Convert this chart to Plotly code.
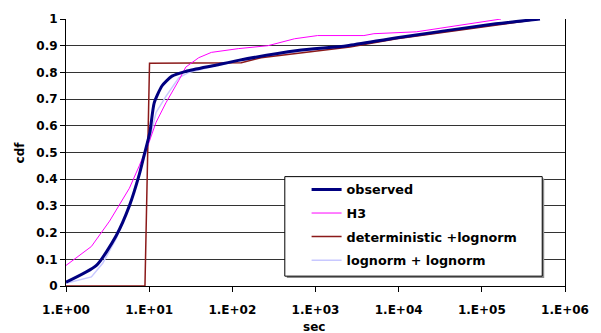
import plotly.graph_objects as go

# Empirical and fitted CDFs of durations (seconds)
obs_x = [1.0, 2.32, 4.01, 5.78, 7.6, 8.7, 10.2, 11.5, 14.3, 18.8, 27.6, 63, 118, 610, 2400, 9500, 147000, 500000]
obs_y = [0.014, 0.077, 0.188, 0.30, 0.417, 0.49, 0.576, 0.686, 0.75, 0.786, 0.804, 0.827, 0.845, 0.882, 0.90, 0.93, 0.982, 1.0]

h3_x = [1.0, 2.02, 3.34, 5.78, 7.6, 10.0, 12.1, 15.9, 22.7, 27.6, 39.4, 56, 118, 268, 560, 1060, 3820, 5040, 16300, 170000]
h3_y = [0.077, 0.148, 0.243, 0.366, 0.45, 0.54, 0.613, 0.686, 0.77, 0.82, 0.855, 0.875, 0.889, 0.90, 0.926, 0.938, 0.938, 0.945, 0.952, 1.0]

det_x = [1.0, 8.9, 10.1, 128, 221, 1060, 2600, 9500, 147000, 500000]
det_y = [0.0, 0.0, 0.834, 0.836, 0.855, 0.882, 0.895, 0.926, 0.978, 1.0]

ln_x = [1.0, 2.02, 2.76, 4.05, 5.78, 8.03, 9.46, 12.1, 15.9, 22.7, 29.9, 63, 118, 610, 2400, 9500, 147000, 500000]
ln_y = [0.01, 0.034, 0.085, 0.18, 0.30, 0.45, 0.51, 0.65, 0.71, 0.78, 0.80, 0.825, 0.843, 0.878, 0.897, 0.926, 0.978, 1.0]

x_tickvals = [1, 10, 100, 1000, 10000, 100000, 1000000]
x_ticktext = ["1.E+00", "1.E+01", "1.E+02", "1.E+03", "1.E+04", "1.E+05", "1.E+06"]
y_tickvals = [0, 0.1, 0.2, 0.3, 0.4, 0.5, 0.6, 0.7, 0.8, 0.9, 1]
y_ticktext = ["0", "0.1", "0.2", "0.3", "0.4", "0.5", "0.6", "0.7", "0.8", "0.9", "1"]

FONT = "DejaVu Sans, Arial, sans-serif"

# plot area in pixels: x 66..570, y 15..286
L, R, T, B = 66, 570, 15, 286


def px(x):
    return (x - L) / (R - L)


def py(y):
    return (B - y) / (B - T)


fig = go.Figure()
# drawn back-to-front so that the observed curve sits on top
fig.add_trace(go.Scatter(x=ln_x, y=ln_y, mode="lines", name="lognorm + lognorm",
                         line=dict(color="#c8c8ff", width=1.5), legendrank=4, legendgroup="d"))
fig.add_trace(go.Scatter(x=det_x, y=det_y, mode="lines", name="deterministic +lognorm",
                         line=dict(color="#8b1a1a", width=1.5), legendrank=3, legendgroup="c"))
fig.add_trace(go.Scatter(x=h3_x, y=h3_y, mode="lines", name="H3",
                         line=dict(color="#ff00ff", width=1), legendrank=2, legendgroup="b"))
fig.add_trace(go.Scatter(x=obs_x, y=obs_y, mode="lines", name="observed",
                         line=dict(color="#000080", width=3, shape="spline", smoothing=0.6),
                         legendrank=1, legendgroup="a"))

fig.update_layout(
    width=601, height=333,
    margin=dict(l=L, r=601 - R, t=T, b=333 - B),
    paper_bgcolor="white", plot_bgcolor="white",
    font=dict(family=FONT, size=12, color="black"),
    showlegend=True,
    legend=dict(
        x=px(309), y=py(173), xanchor="left", yanchor="top",
        bgcolor="rgba(0,0,0,0)", borderwidth=0,
        font=dict(family=FONT, size=12.75, color="black", weight="bold"),
        tracegroupgap=4, itemwidth=30,
    ),
    xaxis=dict(
        type="log", range=[0, 6],
        tickvals=x_tickvals, ticktext=x_ticktext,
        tickfont=dict(family=FONT, size=12, weight="bold"),
        ticks="outside", ticklen=5, tickcolor="black",
        ticklabelstandoff=8,
        showline=True, linecolor="black", linewidth=1,
        showgrid=False, zeroline=False,
    ),
    yaxis=dict(
        range=[0, 1],
        tickvals=y_tickvals, ticktext=y_ticktext,
        tickfont=dict(family=FONT, size=12, weight="bold"),
        ticks="outside", ticklen=5, tickcolor="black",
        showline=True, linecolor="black", linewidth=1, mirror=True,
        showgrid=True, gridcolor="#333333", gridwidth=1,
        zeroline=False,
    ),
    annotations=[
        dict(text="<b>sec</b>", x=px(316), y=py(328), xref="paper", yref="paper",
             xanchor="center", yanchor="middle", showarrow=False,
             font=dict(family=FONT, size=12)),
        dict(text="<b>cdf</b>", x=px(20), y=py(150), xref="paper", yref="paper",
             xanchor="center", yanchor="middle", showarrow=False, textangle=-90,
             font=dict(family=FONT, size=12)),
    ],
    shapes=[
        # legend drop shadow and framed box
        dict(type="rect", xref="paper", yref="paper",
             x0=px(289), x1=px(549), y0=py(278), y1=py(177),
             fillcolor="#8c8c8c", line=dict(width=0), layer="above"),
        dict(type="rect", xref="paper", yref="paper",
             x0=px(287), x1=px(547), y0=py(276), y1=py(175),
             fillcolor="white", line=dict(color="black", width=1), layer="above"),
    ],
)

fig.write_html("out.html")
